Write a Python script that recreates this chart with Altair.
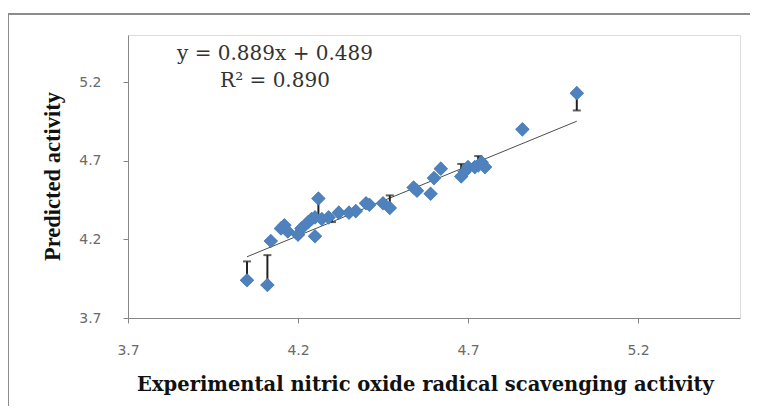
import altair as alt
import pandas as pd

# ---- data ----
exp_x = [4.05, 4.11, 4.12, 4.15, 4.16, 4.17, 4.20, 4.21, 4.23, 4.24,
         4.25, 4.25, 4.26, 4.27, 4.29, 4.32, 4.35, 4.37, 4.40, 4.41,
         4.45, 4.47, 4.54, 4.55, 4.59, 4.60, 4.62, 4.68, 4.69, 4.70,
         4.72, 4.73, 4.74, 4.75, 4.86, 5.02]
pred_y = [3.94, 3.91, 4.19, 4.27, 4.29, 4.25, 4.23, 4.27, 4.31, 4.33,
          4.22, 4.34, 4.46, 4.33, 4.34, 4.37, 4.37, 4.38, 4.43, 4.42,
          4.43, 4.40, 4.53, 4.51, 4.49, 4.59, 4.65, 4.60, 4.63, 4.66,
          4.66, 4.67, 4.69, 4.66, 4.90, 5.13]

bar_x = [4.05, 4.11, 4.26, 5.02, 4.68, 4.73, 4.47, 4.30]
bar_from = [3.94, 3.91, 4.46, 5.13, 4.60, 4.67, 4.40, 4.34]
bar_to = [4.06, 4.10, 4.33, 5.02, 4.68, 4.73, 4.48, 4.31]

line_x = [4.05, 5.02]
slope = 0.889
intercept = 0.489

tick_vals = [3.7, 4.2, 4.7, 5.2]
domain = [3.7, 5.5]

eq_line1 = "y = 0.889x + 0.489"
eq_line2 = "R\u00b2 = 0.890"

x_title = "Experimental  nitric oxide radical scavenging activity"
y_title = "Predicted activity"

# ---- tables ----
pts = pd.DataFrame({"x": exp_x, "y": pred_y})
bars = pd.DataFrame({"x": bar_x, "y1": bar_from, "y2": bar_to})
reg = pd.DataFrame({"x": line_x})
one = pd.DataFrame({"t": [eq_line1, eq_line2]})

W, H = 612, 283
LABEL_FONT = "DejaVu Sans"
SERIF = "Liberation Serif"
WIDE_SERIF = "DejaVu Serif"

xs = alt.Scale(domain=domain, nice=False, zero=False)
ys = alt.Scale(domain=domain, nice=False, zero=False)

x_axis = alt.Axis(values=tick_vals, format=".1f", grid=False, labelFlush=False,
                  domainColor="#868686", tickColor="#868686", tickSize=5,
                  labelFont=LABEL_FONT, labelFontSize=14, labelColor="#6a6a6a",
                  labelPadding=20, title=x_title, titleFont=WIDE_SERIF,
                  titleFontSize=19.5, titleFontWeight="bold", titleColor="#111111",
                  titleX=297, titleY=72, titleAlign="center",
                  titleBaseline="alphabetic")
y_axis = alt.Axis(values=tick_vals, format=".1f", grid=False, labelFlush=False,
                  domainColor="#868686", tickColor="#868686", tickSize=5,
                  labelFont=LABEL_FONT, labelFontSize=14, labelColor="#6a6a6a",
                  labelPadding=22, title=y_title, titleFont=SERIF,
                  titleFontSize=22.5, titleFontWeight="bold", titleColor="#111111",
                  titleX=-76, titleY=141, titleAngle=-90, titleAlign="center",
                  titleBaseline="middle")

points = alt.Chart(pts).mark_point(shape="diamond", filled=True, size=200,
                                   color="#4F81BD", opacity=1).encode(
    x=alt.X("x:Q", scale=xs, axis=x_axis),
    y=alt.Y("y:Q", scale=ys, axis=y_axis),
)

regline = alt.Chart(reg).transform_calculate(
    y=f"{slope} * datum.x + {intercept}"
).mark_line(color="#4d4d4d", strokeWidth=1).encode(
    x=alt.X("x:Q", scale=xs),
    y=alt.Y("y:Q", scale=ys),
)

err = alt.Chart(bars).mark_rule(color="#222222", strokeWidth=2).encode(
    x=alt.X("x:Q", scale=xs), y=alt.Y("y1:Q", scale=ys), y2="y2:Q"
)
caps = alt.Chart(bars).mark_tick(color="#222222", thickness=2, size=8,
                                 orient="horizontal").encode(
    x=alt.X("x:Q", scale=xs), y=alt.Y("y2:Q", scale=ys)
)

frame = alt.Chart(pts.head(1)).mark_rect(
    filled=False, stroke="#8c8c8c", strokeWidth=2
).encode(x=alt.value(-120), x2=alt.value(660), y=alt.value(-21), y2=alt.value(377))

eq1 = alt.Chart(one.head(1)).mark_text(font=WIDE_SERIF, fontSize=20, color="#333333",
                                       align="center", baseline="middle").encode(
    x=alt.value(147), y=alt.value(19), text="t:N")
eq2 = alt.Chart(one.tail(1)).mark_text(font=WIDE_SERIF, fontSize=20, color="#333333",
                                       align="center", baseline="middle").encode(
    x=alt.value(147), y=alt.value(46), text="t:N")

chart = alt.layer(points, regline, err, caps, points, frame, eq1, eq2).properties(
    width=W, height=H,
    autosize=alt.AutoSizeParams(type="none"),
    padding={"left": 120, "top": 27, "right": 10, "bottom": 88},
).configure_view(stroke=None).configure(background="white")

chart.save("out.html", embed_options={"renderer": "svg", "actions": False})
